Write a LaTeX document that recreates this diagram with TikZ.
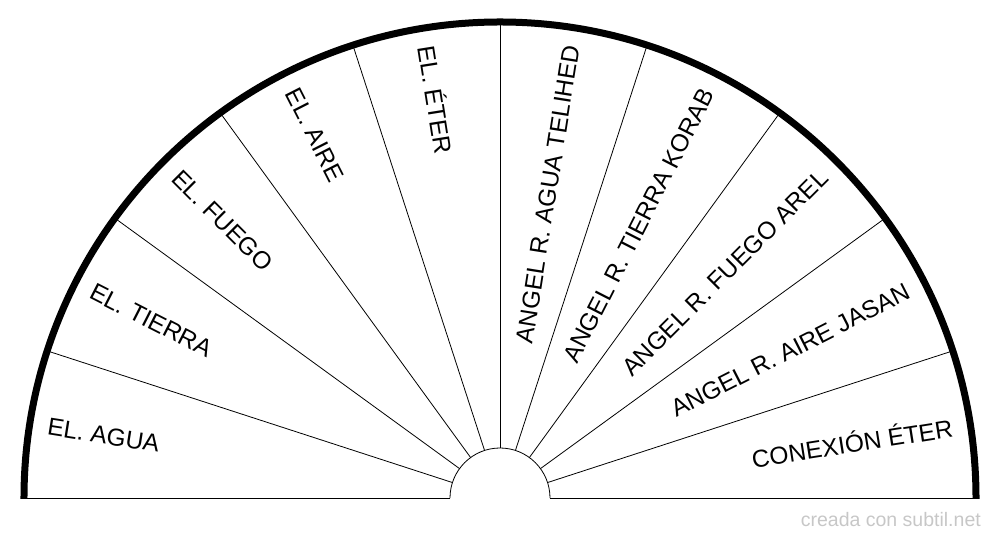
\documentclass[tikz,border=0pt]{standalone}
\usepackage{fontspec}
\setmainfont{Liberation Sans}
\begin{document}
\begin{tikzpicture}[x=1pt,y=1pt,
  lbl/.style={font=\fontsize{24.5}{24.5}\selectfont, inner sep=0pt},
  thin line/.style={line width=0.8pt}]
\useasboundingbox (-500,-42) rectangle (500,498);
\coordinate (O) at (0,0);
\foreach \a in {18,36,...,162}{
  \draw[thin line] (\a:50) -- (\a:476);
}
\draw[thin line] (-476,0) -- (-50,0);
\draw[thin line] (50,0) -- (476,0);
\draw[thin line] (50,0) arc (0:180:50);
\draw[line width=7pt] (-476,-1) -- (-476,0) arc (180:0:476) -- (476,-1);
\foreach \t [count=\i] in {EL. AGUA, EL. TIERRA, EL. FUEGO, EL. AIRE, EL. ÉTER}{
  \pgfmathsetmacro{\ang}{189-18*\i}
  \node[lbl, anchor=west, rotate=\ang-180] (l\i) at (\ang:458) {\t};
}
\foreach \t [count=\i] in {CONEXIÓN ÉTER, ANGEL R. AIRE JASAN, ANGEL R. FUEGO AREL, ANGEL R. TIERRA KORAB, ANGEL R. AGUA TELIHED}{
  \pgfmathsetmacro{\ang}{18*\i-9}
  \node[lbl, anchor=east, rotate=\ang] (r\i) at (\ang:458) {\t};
}
\node[anchor=east, text=black!22, font=\fontsize{19.5}{19.5}\selectfont, inner sep=0pt] (wm) at (481,-22) {creada con subtil.net};
\end{tikzpicture}
\end{document}
